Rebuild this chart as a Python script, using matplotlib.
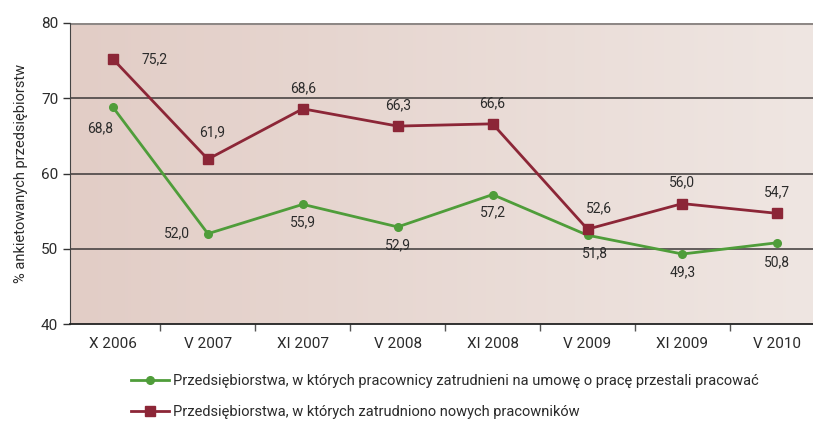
import matplotlib.pyplot as plt
import numpy as np
from matplotlib.colors import LinearSegmentedColormap

plt.rcParams['font.family'] = ['Roboto', 'DejaVu Sans']

# dane
okresy = ['X 2006', 'V 2007', 'XI 2007', 'V 2008', 'XI 2008', 'V 2009', 'XI 2009', 'V 2010']
zwolnienia = [68.8, 52.0, 55.9, 52.9, 57.2, 51.8, 49.3, 50.8]
zatrudnienia = [75.2, 61.9, 68.6, 66.3, 66.6, 52.6, 56.0, 54.7]

nazwa_zw = 'Przedsiębiorstwa, w których pracownicy zatrudnieni na umowę o pracę przestali pracować'
nazwa_za = 'Przedsiębiorstwa, w których zatrudniono nowych pracowników'

zielony = '#4f9d3a'
bordo = '#8c2637'
tekst = '#2b2b2b'

fig = plt.figure(figsize=(8.13, 4.22), dpi=100)
ax = fig.add_axes([70 / 813, 98 / 422, 743 / 813, 301 / 422])

x = np.arange(len(okresy))

# tło z gradientem
grad = np.linspace(0, 1, 256).reshape(1, -1)
cmap = LinearSegmentedColormap.from_list('tlo', ['#e2cdc6', '#efe6e2'])
ax.imshow(grad, aspect='auto', cmap=cmap, extent=[-0.453, 7.376, 40, 80], zorder=0)

for yy in [50, 60, 70]:
    ax.axhline(yy, color='#3c3838', lw=1.1, zorder=1)
ax.axhline(80, color='#8e8886', lw=2.2, zorder=1)

ax.plot(x, zwolnienia, color=zielony, lw=2, marker='o', ms=5.5, zorder=3, label=nazwa_zw)
ax.plot(x, zatrudnienia, color=bordo, lw=2, marker='s', ms=6.5, zorder=4, label=nazwa_za)

# etykiety danych
def fmt(v):
    return f'{v:.1f}'.replace('.', ',')

off_za = [(30, 0, 'center', 'center'), (3, 14, 'center', 'bottom'), (0, 10, 'center', 'bottom'),
          (0, 10, 'center', 'bottom'), (0, 10, 'center', 'bottom'), (8, 10, 'center', 'bottom'),
          (0, 10, 'center', 'bottom'), (0, 10, 'center', 'bottom')]
off_zw = [(-9, -10, 'center', 'top'), (-22, 0, 'center', 'center'), (0, -8, 'center', 'top'),
          (0, -8, 'center', 'top'), (0, -8, 'center', 'top'), (5, -8, 'center', 'top'),
          (0, -8, 'center', 'top'), (0, -9, 'center', 'top')]
for i, v in enumerate(zatrudnienia):
    dx, dy, ha, va = off_za[i]
    ax.annotate(fmt(v), (x[i], v), xytext=(dx, dy), textcoords='offset points',
                ha=ha, va=va, fontsize=10, color=tekst, zorder=5)
for i, v in enumerate(zwolnienia):
    dx, dy, ha, va = off_zw[i]
    ax.annotate(fmt(v), (x[i], v), xytext=(dx, dy), textcoords='offset points',
                ha=ha, va=va, fontsize=10, color=tekst, zorder=5)

ax.set_xlim(-0.453, 7.376)
ax.set_ylim(40, 80)
ax.set_yticks([40, 50, 60, 70, 80])
ax.set_xticks(x)
ax.set_xticklabels(okresy)
ax.set_xticks(np.arange(0.5, 7, 1), minor=True)
ax.tick_params(axis='x', which='major', length=0, pad=9, labelsize=11, colors=tekst)
ax.tick_params(axis='x', which='minor', length=5, width=1, color='#555')
ax.tick_params(axis='y', length=5, width=1, color='#333', labelsize=11, labelcolor=tekst)
ax.set_ylabel('% ankietowanych przedsiębiorstw', fontsize=10.5, color=tekst, labelpad=9)

for s in ['top', 'right']:
    ax.spines[s].set_visible(False)
ax.spines['left'].set_color('#444')
ax.spines['bottom'].set_color('#222')
ax.spines['bottom'].set_linewidth(1.3)

fig.legend(loc='upper left', bbox_to_anchor=(118 / 813, 1 - 361 / 422), frameon=False,
           fontsize=10.5, handlelength=2.6, handletextpad=0.3, labelspacing=1.15,
           labelcolor=tekst)

fig.savefig('out.png', dpi=100)
